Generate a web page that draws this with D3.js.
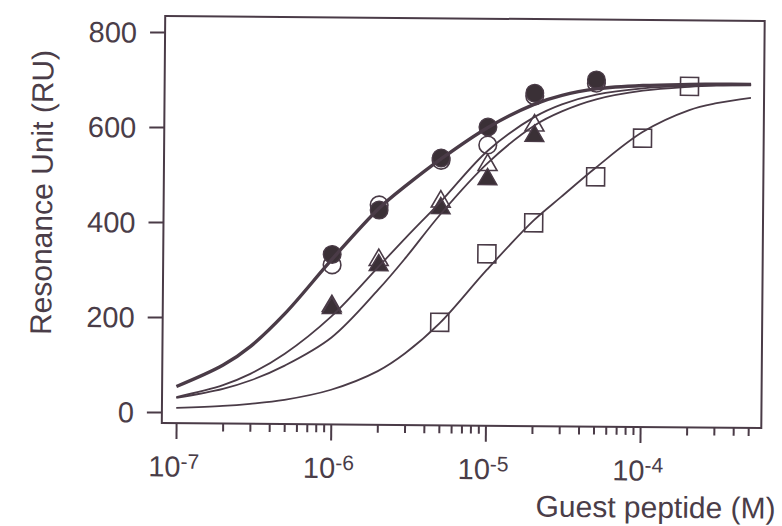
<!DOCTYPE html>
<html>
<head>
<meta charset="utf-8">
<script src="https://cdn.jsdelivr.net/npm/d3@7"></script>
<style>
  html, body { margin: 0; padding: 0; background: #ffffff; }
  svg { display: block; }
  text { font-family: "Liberation Sans", Arial, Helvetica, sans-serif; fill: #4a3d48; }
</style>
</head>
<body>
<svg id="chart" width="782" height="526"></svg>
<script>
// Measured binding responses (RU) against guest peptide concentration (M)
const concCircles    = [1e-6, 2e-6, 5e-6, 1e-5, 2e-5, 5e-5];
const filledCircle   = [335, 429, 540, 606, 678, 707];
const openCircle     = [313, 440, 535, 568, 672, 700];

const concTriangles  = [1e-6, 2e-6, 5e-6, 1e-5, 2e-5];
const openTriangle   = [226, 324, 448, 526, 610];
const filledTriangle = [222, 313, 434, 496, 588];

const concSquares    = [5e-6, 1e-5, 2e-5, 5e-5, 1e-4, 2e-4];
const openSquare     = [194, 339, 405, 503, 585, 695];

// Fitted binding isotherms, sampled along the concentration axis
const curveConc  = [1e-7, 2e-7, 3e-7, 5e-7, 1e-6, 2e-6, 3e-6, 5e-6,
                    1e-5, 2e-5, 3e-5, 5e-5, 1e-4, 2e-4, 3e-4, 5e-4];
const fitCircles = [54, 100, 140, 210, 325, 433, 482, 538, 605, 655, 674, 688, 696, 699, 700, 700];
const fitUpper   = [32, 58, 82, 125, 205, 310, 372, 448, 556, 628, 655, 676, 690, 696, 698, 699];
const fitLower   = [30, 50, 68, 100, 160, 262, 330, 422, 530, 610, 640, 666, 685, 694, 697, 699];
const fitSquares = [9, 14, 19, 28, 50, 90, 128, 192, 305, 410, 460, 522, 598, 645, 660, 672];

// Axis ticks
const yTicks     = [0, 200, 400, 600, 800];
const xDecades   = [1e-7, 1e-6, 1e-5, 1e-4];
const xExponents = ["-7", "-6", "-5", "-4"];

const ink = "#4a3b47";
const dark = "#3a3036";

const svg = d3.select("#chart");
svg.append("rect").attr("width", 782).attr("height", 526).attr("fill", "#ffffff");

// whole figure sits slightly rotated on the page
const g = svg.append("g").attr("transform", "rotate(0.48 463 222)");

const frame = { left: 163.5, right: 763, top: 18.5, bottom: 425.5 };

const x = d3.scaleLog()
  .domain([1e-7, 5e-4])
  .range([177.8, 177.8 + Math.log10(5e-4 / 1e-7) * 154.67]);

const y = d3.scaleLinear()
  .domain([0, 800])
  .range([414.6, 34.6]);

// frame
g.append("rect")
  .attr("x", frame.left).attr("y", frame.top)
  .attr("width", frame.right - frame.left)
  .attr("height", frame.bottom - frame.top)
  .attr("fill", "none").attr("stroke", ink).attr("stroke-width", 2);

// y axis
const yAxis = g.append("g")
  .attr("transform", `translate(${frame.left},0)`)
  .call(d3.axisLeft(y).tickValues(yTicks).tickSize(15).tickPadding(13));
yAxis.select(".domain").remove();
yAxis.selectAll(".tick line").attr("stroke", ink).attr("stroke-width", 2);
yAxis.selectAll(".tick text")
  .attr("font-size", 29).attr("fill", "#4a3d48")
  .attr("font-family", "Liberation Sans, Arial, sans-serif")
  .attr("dy", "0.35em");

// x axis: minor and major ticks hanging under the frame
const allTicks = x.ticks();
const xMinor = allTicks.filter(v => !xDecades.some(d => Math.abs(v - d) / d < 1e-6));
const minorAxis = g.append("g")
  .attr("transform", `translate(0,${frame.bottom})`)
  .call(d3.axisBottom(x).tickValues(xMinor).tickSize(8).tickFormat(""));
minorAxis.select(".domain").remove();
minorAxis.selectAll(".tick line").attr("stroke", ink).attr("stroke-width", 2);

const majorAxis = g.append("g")
  .attr("transform", `translate(0,${frame.bottom})`)
  .call(d3.axisBottom(x).tickValues(xDecades).tickSize(16).tickFormat(""));
majorAxis.select(".domain").remove();
majorAxis.selectAll(".tick line").attr("stroke", ink).attr("stroke-width", 2);

// decade labels as 10 with superscript exponent
xDecades.forEach((d, i) => {
  const t = g.append("text")
    .attr("x", x(d) - 2).attr("y", 479)
    .attr("text-anchor", "middle")
    .attr("font-size", 29);
  t.append("tspan").text("10");
  t.append("tspan").attr("font-size", 21).attr("dy", -8).text(xExponents[i]);
});

// axis titles
g.append("text")
  .attr("x", 778).attr("y", 516)
  .attr("text-anchor", "end")
  .attr("font-size", 30)
  .text("Guest peptide (M)");

g.append("text")
  .attr("transform", "translate(52,196) rotate(-90)")
  .attr("text-anchor", "middle")
  .attr("font-size", 30)
  .text("Resonance Unit (RU)");

// markers
const triSym = d3.symbol().type(d3.symbolTriangle).size(155);
const pts = (cs, vs) => cs.map((c, i) => ({ c, v: vs[i] }));

g.append("g").selectAll("rect")
  .data(pts(concSquares, openSquare)).join("rect")
  .attr("x", d => x(d.c) - 9).attr("y", d => y(d.v) - 9)
  .attr("width", 18).attr("height", 18)
  .attr("fill", "#ffffff").attr("stroke", ink).attr("stroke-width", 1.6);

g.append("g").selectAll("circle")
  .data(pts(concCircles, openCircle)).join("circle")
  .attr("cx", d => x(d.c)).attr("cy", d => y(d.v)).attr("r", 8.8)
  .attr("fill", "#ffffff").attr("stroke", ink).attr("stroke-width", 1.6);

g.append("g").selectAll("path")
  .data(pts(concTriangles, openTriangle)).join("path")
  .attr("transform", d => `translate(${x(d.c)},${y(d.v)})`)
  .attr("d", triSym)
  .attr("fill", "#ffffff").attr("stroke", ink).attr("stroke-width", 1.6);

g.append("g").selectAll("path")
  .data(pts(concTriangles, filledTriangle)).join("path")
  .attr("transform", d => `translate(${x(d.c)},${y(d.v)})`)
  .attr("d", triSym)
  .attr("fill", dark).attr("stroke", ink).attr("stroke-width", 1.4);

g.append("g").selectAll("circle")
  .data(pts(concCircles, filledCircle)).join("circle")
  .attr("cx", d => x(d.c)).attr("cy", d => y(d.v)).attr("r", 8.8)
  .attr("fill", dark).attr("stroke", ink).attr("stroke-width", 1.4);

// fitted curves
const line = d3.line()
  .x(d => x(d.c)).y(d => y(d.v))
  .curve(d3.curveCatmullRom.alpha(0.5));

[
  { vals: fitSquares, w: 1.8 },
  { vals: fitLower,   w: 1.8 },
  { vals: fitUpper,   w: 1.8 },
  { vals: fitCircles, w: 3.4 }
].forEach(s => {
  g.append("path")
    .datum(pts(curveConc, s.vals))
    .attr("d", line)
    .attr("fill", "none")
    .attr("stroke", ink)
    .attr("stroke-width", s.w)
    .attr("stroke-linejoin", "round");
});
</script>
</body>
</html>
